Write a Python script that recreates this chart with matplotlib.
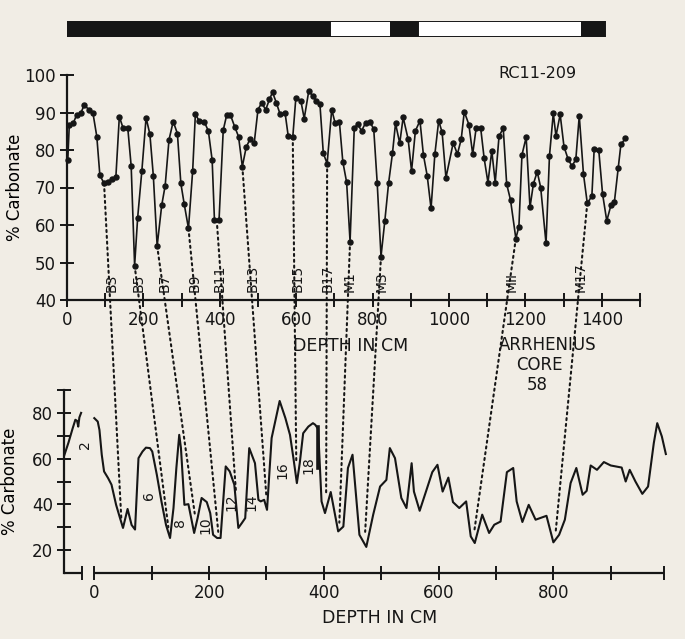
import numpy as np
import matplotlib.pyplot as plt
from matplotlib.patches import ConnectionPatch, Rectangle

plt.rcParams['font.family'] = ['DejaVu Sans']

# upper core RC11-209 (depth cm, % carbonate)
rc_depth = [2, 6, 17, 25, 36, 45, 58, 68, 78, 86, 97, 108, 118, 128, 137, 147, 159, 168, 177, 185,
            196, 207, 217, 226, 236, 248, 257, 267, 278, 289, 298, 307, 318, 329, 336, 346, 359, 370, 380, 386,
            398, 409, 418, 428, 439, 449, 459, 469, 479, 490, 500, 510, 520, 530, 538, 548, 558, 571, 579, 591,
            599, 612, 621, 633, 643, 652, 662, 671, 681, 693, 702, 713, 722, 732, 741, 752, 761, 771, 782, 793,
            803, 812, 822, 832, 842, 852, 860, 871, 880, 893, 902, 912, 924, 933, 943, 953, 963, 973, 982, 992,
            1011, 1022, 1032, 1040, 1052, 1062, 1071, 1083, 1092, 1102, 1112, 1121, 1131, 1142, 1151, 1161, 1175, 1183, 1191, 1202,
            1212, 1221, 1231, 1240, 1254, 1263, 1273, 1280, 1291, 1301, 1312, 1322, 1332, 1341, 1352, 1362, 1374, 1380, 1392, 1402,
            1413, 1424, 1433, 1443, 1450, 1462]
rc_carb = [77.3, 86.7, 87.3, 89.3, 89.8, 92.0, 90.7, 89.8, 83.6, 73.3, 71.1, 71.6, 72.2, 72.9, 88.9, 85.8, 86.0, 75.7, 49.2, 62.0,
           74.5, 88.6, 84.2, 73.1, 54.4, 65.3, 70.5, 82.7, 87.6, 84.4, 71.1, 65.5, 59.1, 74.5, 89.5, 87.8, 87.6, 85.1, 77.3, 61.3,
           61.3, 85.3, 89.3, 89.3, 86.2, 83.6, 75.6, 80.7, 82.9, 81.8, 90.8, 92.6, 90.7, 93.5, 95.4, 92.6, 89.5, 89.8, 83.8, 83.4,
           93.8, 93.2, 88.4, 95.8, 94.4, 93.2, 92.4, 79.1, 76.4, 90.8, 87.1, 87.6, 76.9, 71.4, 55.6, 85.8, 86.9, 85.1, 87.3, 87.6,
           85.5, 71.3, 51.6, 61.1, 71.3, 79.1, 87.1, 81.8, 88.7, 82.9, 74.4, 85.1, 87.8, 78.7, 73.1, 64.4, 78.9, 87.8, 84.7, 72.6,
           81.9, 78.9, 82.9, 90.2, 86.8, 78.9, 85.8, 85.8, 77.8, 71.3, 79.8, 71.3, 83.7, 85.8, 70.9, 66.7, 56.4, 59.6, 78.7, 83.4,
           64.7, 71.0, 74.2, 70.0, 55.1, 78.4, 89.8, 83.7, 89.5, 80.9, 77.5, 75.7, 77.5, 89.1, 73.6, 65.8, 67.7, 80.2, 80.0, 68.3,
           61.1, 65.3, 66.2, 75.1, 81.5, 83.1]

# lower core, Arrhenius 58
ar_depth = [0, 6, 9, 13, 17, 24, 30, 38, 44, 50, 58, 65, 71, 77, 84, 90, 97, 101, 109, 117,
            125, 132, 138, 143, 148, 151, 157, 164, 174, 180, 187, 196, 202, 207, 214, 220, 229, 236, 244, 251,
            257, 263, 270, 280, 286, 290, 296, 301, 309, 323, 333, 341, 347, 353, 358, 364, 373, 381, 385, 390,
            396, 402, 412, 425, 434, 442, 450, 462, 474, 486, 498, 509, 515, 524, 535, 544, 553, 557, 567, 579,
            589, 598, 607, 617, 625, 636, 648, 656, 663, 676, 688, 697, 708, 719, 730, 736, 746, 757, 769, 788,
            800, 810, 820, 830, 840, 851, 858, 865, 876, 888, 900, 919, 926, 933, 943, 955, 965, 975, 981, 989, 996]
ar_carb = [77.7, 76.2, 72.5, 61.7, 54.4, 51.5, 48.6, 39.8, 34.7, 29.7, 38.0, 31.0, 29.0, 60.2, 63.1, 64.8, 64.6, 63.1, 52.9, 41.3,
           31.0, 25.3, 38.4, 55.9, 70.4, 64.6, 39.8, 40.1, 27.5, 34.0, 42.8, 41.0, 36.2, 26.7, 25.3, 25.3, 56.6, 54.4, 48.6, 29.7,
           31.8, 34.0, 64.6, 58.0, 42.0, 41.3, 42.0, 37.6, 69.0, 85.2, 77.7, 70.4, 60.2, 49.3, 58.0, 71.1, 74.0, 75.5, 74.8, 73.0,
           41.3, 36.2, 45.4, 28.2, 30.3, 55.9, 61.7, 26.7, 21.4, 35.5, 47.8, 50.7, 64.6, 60.2, 42.8, 38.4, 58.0, 45.6, 37.2, 46.4,
           54.1, 57.3, 45.6, 51.7, 41.0, 38.4, 41.3, 26.0, 23.1, 35.5, 27.5, 31.1, 32.5, 54.1, 55.9, 41.3, 32.3, 39.8, 33.3, 35.0,
           23.4, 26.7, 33.3, 49.3, 55.9, 44.2, 45.9, 57.0, 55.1, 58.5, 57.0, 56.1, 50.0, 55.1, 50.0, 44.6, 47.8, 66.8, 75.5, 69.7, 62.0]

# short upper section (zone 2) left of the break
top_depth = [-52, -45, -38, -33, -30, -28, -26, -23]
top_carb = [61.7, 67.0, 73.0, 77.0, 76.5, 74.0, 78.0, 80.0]
gap_mark_depth = 389
gap_mark_carb = [56, 74]

# correlation lines: label, upper depth/carb, lower depth/carb
corr_names = ['B3', 'B5', 'B7', 'B9', 'B11', 'B13', 'B15', 'B17', 'M1', 'M3', 'MII', 'M17']
corr_label_depth = [117, 188, 256, 335, 399, 486, 604, 681, 741, 824, 1164, 1345]
corr_up_depth = [97, 177, 236, 318, 392, 459, 591, 681, 741, 822, 1175, 1362]
corr_up_carb = [71.1, 49.2, 54.4, 59.1, 61.3, 75.6, 83.4, 76.4, 55.6, 51.6, 56.4, 65.8]
corr_lo_depth = [47, 129, 175, 216, 247, 300, 352, 404, 427, 472, 662, 804]
corr_lo_carb = [34, 30, 36, 28, 45, 43, 58, 44, 32, 28, 28, 28]

zone_names = ['2', '6', '8', '10', '12', '14', '16', '18']
zone_depth = [-17, 96, 150, 193, 239, 274, 328, 373]
zone_carb = [66, 44, 32, 31, 41, 41, 55, 57]

# paleomagnetic bar: edges (cm) and fill
bar_edges = [-6, 688, 848, 919, 1348, 1408]
bar_black = [True, False, True, False, True]

paper = '#f1ede5'
ink = '#161616'
W, H = 685, 639
fig = plt.figure(figsize=(W / 100, H / 100), dpi=100, facecolor=paper)


def box(l, t, r, b):
    return [l / W, 1 - b / H, (r - l) / W, (b - t) / H]


def style(ax):
    ax.set_facecolor('none')
    for s in ['top', 'right']:
        ax.spines[s].set_visible(False)
    for s in ['left', 'bottom']:
        ax.spines[s].set_linewidth(1.6)
        ax.spines[s].set_color(ink)
    ax.tick_params(direction='inout', length=10, width=1.4, colors=ink, labelsize=12, pad=3)


# bar at top
axb = fig.add_axes(box(67, 21, 640, 37))
axb.set_xlim(0, 1500)
axb.set_ylim(0, 1)
axb.axis('off')
for i in range(len(bar_black)):
    axb.add_patch(Rectangle((bar_edges[i], 0), bar_edges[i + 1] - bar_edges[i], 1,
                            facecolor=ink if bar_black[i] else 'white', edgecolor=ink, lw=1.4))

# upper plot
ax1 = fig.add_axes(box(67, 75, 640, 300))
style(ax1)
ax1.set_xlim(0, 1500)
ax1.set_ylim(40, 100)
ax1.plot(rc_depth, rc_carb, color=ink, lw=1.2, marker='o', ms=3.6, clip_on=False)
ax1.set_xticks(range(0, 1501, 100))
ax1.set_xticklabels([str(v) if v % 200 == 0 and v < 1500 else '' for v in range(0, 1501, 100)])
ax1.set_yticks(range(40, 101, 10))
ax1.set_ylabel('% Carbonate', fontsize=12)
ax1.yaxis.set_label_coords((24 - 67) / 573, 0.5)
for name, d in zip(corr_names, corr_label_depth):
    ax1.text(d, 42, name, rotation=90, ha='center', va='bottom', fontsize=10, color=ink)

# lower plot
ax2 = fig.add_axes(box(64, 390, 667, 573))
style(ax2)
ax2.set_xlim(-52.8, 998)
ax2.set_ylim(10, 90)
ax2.spines['bottom'].set_visible(False)
ax2.plot([-52.8, -22], [10, 10], color=ink, lw=1.6, clip_on=False, solid_capstyle='butt')
ax2.plot([0, 993], [10, 10], color=ink, lw=1.6, clip_on=False, solid_capstyle='butt')
ax2.plot(ar_depth, ar_carb, color=ink, lw=1.5, clip_on=False)
ax2.plot(top_depth, top_carb, color=ink, lw=1.5)
ax2.plot([gap_mark_depth] * 2, gap_mark_carb, color=ink, lw=2.6)
xt = [-22] + list(range(0, 901, 100)) + [993]
ax2.set_xticks(xt)
ax2.set_xticklabels([str(v) if v in (0, 200, 400, 600, 800) else '' for v in xt])
ax2.set_yticks(range(20, 91, 10))
ax2.set_yticklabels([str(v) if v % 20 == 0 else '' for v in range(20, 91, 10)])
ax2.set_ylabel('% Carbonate', fontsize=12)
ax2.yaxis.set_label_coords((19 - 64) / 603, 0.5)
for name, d, c in zip(zone_names, zone_depth, zone_carb):
    ax2.text(d, c, name, rotation=90, ha='center', va='center', fontsize=10, color=ink)

# dotted correlation lines
for i in range(len(corr_names)):
    con = ConnectionPatch(xyA=(corr_up_depth[i], corr_up_carb[i]), coordsA=ax1.transData,
                          xyB=(corr_lo_depth[i], corr_lo_carb[i]), coordsB=ax2.transData,
                          color=ink, lw=1.5, linestyle=(0, (1, 1.8)))
    fig.add_artist(con)

fig.text(537 / W, 1 - 73 / H, 'RC11-209', ha='center', va='center', fontsize=11.5, color=ink)
fig.text(351 / W, 1 - 346 / H, 'DEPTH IN CM', ha='center', va='center', fontsize=12.5, color=ink)
fig.text(548 / W, 1 - 345 / H, 'ARRHENIUS', ha='center', va='center', fontsize=12, color=ink)
fig.text(539 / W, 1 - 365 / H, 'CORE', ha='center', va='center', fontsize=12, color=ink)
fig.text(537 / W, 1 - 385 / H, '58', ha='center', va='center', fontsize=12, color=ink)
fig.text(380 / W, 1 - 618 / H, 'DEPTH IN CM', ha='center', va='center', fontsize=12.5, color=ink)

fig.savefig('out.png', dpi=100, facecolor=paper)
